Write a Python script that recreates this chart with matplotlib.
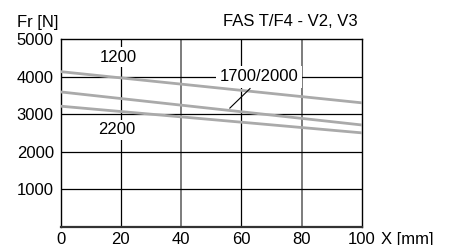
import matplotlib
matplotlib.use("Agg")
import matplotlib.pyplot as plt

x_pos = [0, 100]
line_1200 = [4130, 3300]
line_1700_2000 = [3590, 2710]
line_2200 = [3210, 2500]
xticks = [0, 20, 40, 60, 80, 100]
yticks = [1000, 2000, 3000, 4000, 5000]

plt.rcParams['font.family'] = ['Liberation Sans', 'DejaVu Sans']
fig = plt.figure(figsize=(4.5, 2.45), dpi=100)
ax = fig.add_axes([60.7/450, 1-226.7/245, (361.7-60.7)/450, (226.7-39)/245])
ax.set_xlim(0, 100)
ax.set_ylim(0, 5000)

for xv in [20, 40, 60, 80]:
    c = '#000000' if xv in (20, 60) else '#666666'
    ax.axvline(xv, color=c, lw=0.9 if xv in (20, 60) else 1.2, zorder=1)
for yv in [1000, 2000, 3000, 4000]:
    ax.axhline(yv, color='#000000', lw=0.9, zorder=1)

for ys in (line_1200, line_1700_2000, line_2200):
    ax.plot(x_pos, ys, color='#aaaaaa', lw=2.0, zorder=3)

bb = dict(facecolor='white', edgecolor='none', pad=2)
ax.text(19, 4520, '1200', ha='center', va='center', fontsize=12, bbox=bb, zorder=2)
ax.text(18.6, 2580, '2200', ha='center', va='center', fontsize=12, bbox=bb, zorder=2)
ax.text(65.9, 4000, '1700/2000', ha='center', va='center', fontsize=12,
        bbox=dict(facecolor='white', edgecolor='none', pad=2.5), zorder=2)
ax.plot([56.2, 62.9], [3160, 3680], color='black', lw=0.8, zorder=5)

ax.set_xticks(xticks)
ax.set_yticks(yticks)
ax.tick_params(length=0, labelsize=12)
ax.tick_params(axis='y', pad=5)
ax.tick_params(axis='x', pad=4)
for s in ax.spines.values():
    s.set_color('black')
    s.set_linewidth(1.0)
ax.spines['bottom'].set_color('#333333')
ax.spines['bottom'].set_linewidth(1.6)

fig.text(17/450, 1-22/245, 'Fr [N]', ha='left', va='center', fontsize=12)
fig.text(358/450, 1-22/245, 'FAS T/F4 - V2, V3', ha='right', va='center', fontsize=12)
fig.text(381/450, 1-239/245, 'X [mm]', ha='left', va='center', fontsize=12)

fig.savefig('out.png', dpi=100)
